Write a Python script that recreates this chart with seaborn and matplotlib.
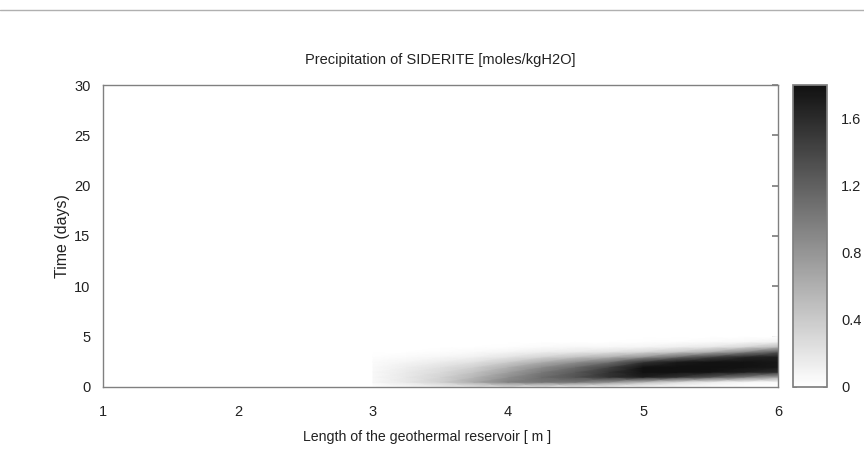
import numpy as np
import matplotlib
matplotlib.use("Agg")
import matplotlib.pyplot as plt
import seaborn as sns
from matplotlib.colors import LinearSegmentedColormap

# ---- data ----
length_m = [3.0, 3.25, 3.5, 3.75, 4.0, 4.25, 4.5, 4.75, 5.0, 5.25, 5.5, 5.75, 6.0]
time_days = [0.0, 0.5, 1.0, 1.5, 2.0, 2.5, 3.0, 3.5, 4.0, 4.5, 5.0]
# one list per length column, values per time row
col_300 = [0.0, 0.06, 0.06, 0.05, 0.04, 0.03, 0.01, 0.0, 0.0, 0.0, 0.0]
col_325 = [0.06, 0.18, 0.18, 0.16, 0.13, 0.08, 0.03, 0.0, 0.0, 0.0, 0.0]
col_350 = [0.12, 0.35, 0.33, 0.28, 0.22, 0.14, 0.07, 0.02, 0.0, 0.0, 0.0]
col_375 = [0.18, 0.65, 0.55, 0.45, 0.35, 0.22, 0.11, 0.04, 0.0, 0.0, 0.0]
col_400 = [0.22, 0.95, 0.85, 0.72, 0.58, 0.38, 0.20, 0.08, 0.01, 0.0, 0.0]
col_425 = [0.12, 1.05, 1.10, 1.00, 0.85, 0.60, 0.32, 0.13, 0.03, 0.0, 0.0]
col_450 = [0.06, 1.05, 1.30, 1.25, 1.10, 0.82, 0.45, 0.17, 0.05, 0.0, 0.0]
col_475 = [0.03, 0.85, 1.55, 1.55, 1.40, 1.05, 0.58, 0.22, 0.06, 0.0, 0.0]
col_500 = [0.0, 0.55, 1.70, 1.80, 1.78, 1.50, 0.80, 0.30, 0.08, 0.01, 0.0]
col_525 = [0.0, 0.30, 1.55, 1.80, 1.80, 1.72, 1.10, 0.42, 0.12, 0.02, 0.0]
col_550 = [0.0, 0.15, 1.30, 1.78, 1.80, 1.78, 1.40, 0.60, 0.18, 0.03, 0.0]
col_575 = [0.0, 0.07, 1.00, 1.70, 1.78, 1.78, 1.62, 0.90, 0.30, 0.05, 0.0]
col_600 = [0.0, 0.04, 0.70, 1.60, 1.75, 1.75, 1.70, 1.25, 0.50, 0.10, 0.0]
columns = [col_300, col_325, col_350, col_375, col_400, col_425, col_450,
           col_475, col_500, col_525, col_550, col_575, col_600]
x_ticks = [1, 2, 3, 4, 5, 6]
y_ticks = [0, 5, 10, 15, 20, 25, 30]
cbar_ticks = [0, 0.4, 0.8, 1.2, 1.6]
cbar_labels = ["0", "0.4", "0.8", "1.2", "1.6"]
vmax = 1.8

title = "Precipitation of SIDERITE [moles/kgH2O]"
xlabel = "Length of the geothermal reservoir [ m ]"
ylabel = "Time (days)"

# ---- plot ----
sns.set_theme(style="white")
plt.rcParams["font.family"] = ["Liberation Sans", "DejaVu Sans"]

Z = np.array(columns).T  # rows = time, cols = length
X, Y = np.meshgrid(length_m, time_days)

cmap = LinearSegmentedColormap.from_list("sid", ["#ffffff", "#111111"])
txt = "#222222"

fig = plt.figure(figsize=(8.64, 4.59), dpi=100)
ax = fig.add_axes([0.1192, 0.1569, 0.7813, 0.6579])
mesh = ax.pcolormesh(X, Y, Z, shading="gouraud", cmap=cmap, vmin=0, vmax=vmax)

ax.set_xlim(1, 6)
ax.set_ylim(0, 30)
ax.set_xticks(x_ticks)
ax.set_yticks(y_ticks)
ax.tick_params(axis="both", direction="in", length=4, color="#808080",
               labelsize=10.5, labelcolor=txt)
ax.tick_params(axis="y", right=True, pad=9)
ax.tick_params(axis="x", pad=13)
for s in ax.spines.values():
    s.set_color("#808080")
    s.set_linewidth(1.0)
ax.set_title(title, fontsize=10.5, color=txt, pad=15)
ax.set_xlabel(xlabel, fontsize=10.2, color=txt)
ax.xaxis.set_label_coords(0.48, -0.142)
ax.set_ylabel(ylabel, fontsize=11.5, color=txt)
ax.yaxis.set_label_coords(-0.049, 0.5)

cax = fig.add_axes([0.9178, 0.1569, 0.0394, 0.6579])
cb = fig.colorbar(mesh, cax=cax, ticks=cbar_ticks)
cb.outline.set_edgecolor("#808080")
cb.ax.tick_params(direction="in", length=3, color="#808080", labelsize=10.5,
                  labelcolor=txt, pad=10, left=True)
cb.ax.set_yticklabels(cbar_labels)

# thin grey rule at the top of the image
fig.add_artist(plt.Line2D([0, 1], [0.978, 0.978], color="#b0b0b0", lw=1.0,
                          transform=fig.transFigure))

fig.savefig("out.png", dpi=100)
